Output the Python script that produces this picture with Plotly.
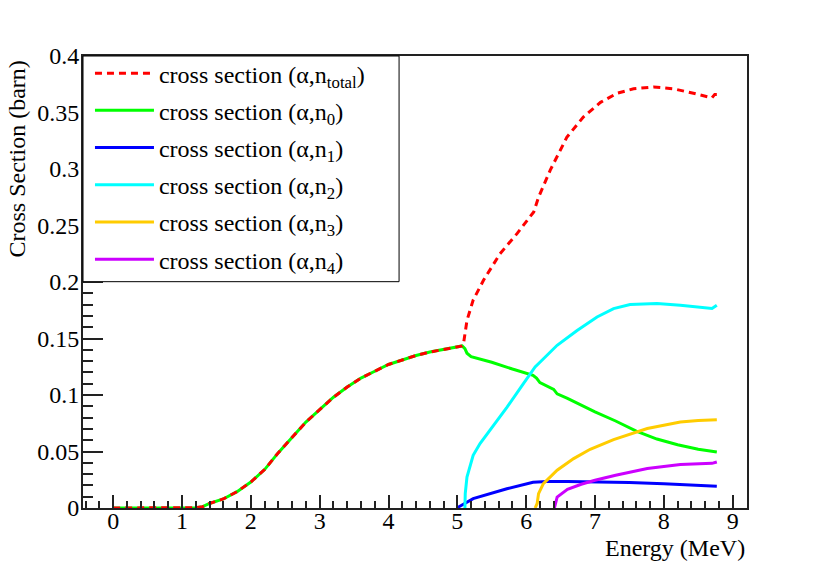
import plotly.graph_objects as go

# energies (MeV) and cross sections (barn)
E_n0 = [0, 0.5, 1.0, 1.2, 1.3, 1.4, 1.6, 1.8, 2.0, 2.2, 2.4, 2.6, 2.8, 3.0, 3.2, 3.4, 3.6, 3.8,
        4.0, 4.2, 4.4, 4.6, 4.8, 5.0, 5.07, 5.11, 5.14, 5.2, 5.5, 5.8, 6.1, 6.15, 6.2, 6.4, 6.45,
        6.6, 6.8, 7.0, 7.3, 7.6, 7.9, 8.2, 8.5, 8.77]
xs_n0 = [0, 0, 0, 0.0003, 0.0012, 0.004, 0.008, 0.0145, 0.023, 0.034, 0.049, 0.063, 0.076, 0.087,
         0.098, 0.107, 0.115, 0.121, 0.127, 0.131, 0.135, 0.138, 0.1405, 0.1425, 0.1434, 0.141,
         0.137, 0.134, 0.129, 0.123, 0.1175, 0.115, 0.111, 0.105, 0.101, 0.097, 0.091, 0.085,
         0.077, 0.068, 0.061, 0.056, 0.052, 0.0496]

E_tot = [0, 0.5, 1.0, 1.2, 1.3, 1.4, 1.6, 1.8, 2.0, 2.2, 2.4, 2.6, 2.8, 3.0, 3.2, 3.4, 3.6, 3.8,
         4.0, 4.2, 4.4, 4.6, 4.8, 5.0, 5.07, 5.09, 5.14, 5.23, 5.38, 5.62, 5.87, 6.11, 6.18, 6.35,
         6.59, 6.83, 7.08, 7.32, 7.56, 7.85, 8.14, 8.43, 8.70, 8.74, 8.77]
xs_tot = [0, 0, 0, 0.0003, 0.0012, 0.004, 0.008, 0.0145, 0.023, 0.034, 0.049, 0.063, 0.076, 0.087,
          0.098, 0.107, 0.115, 0.121, 0.127, 0.131, 0.135, 0.138, 0.1405, 0.1425, 0.1434, 0.1455,
          0.166, 0.184, 0.2015, 0.225, 0.243, 0.262, 0.275, 0.299, 0.328, 0.346, 0.359, 0.367,
          0.371, 0.3726, 0.371, 0.367, 0.363, 0.366, 0.366]

E_n1 = [5.0, 5.02, 5.23, 5.5, 5.72, 6.1, 6.3, 6.6, 7.0, 7.5, 8.0, 8.5, 8.77]
xs_n1 = [0, 0.001, 0.0083, 0.013, 0.017, 0.0228, 0.0235, 0.0235, 0.0233, 0.0226, 0.0215, 0.020, 0.0192]

E_n2 = [5.11, 5.115, 5.14, 5.19, 5.23, 5.33, 5.48, 5.72, 5.96, 6.13, 6.20, 6.45, 6.74, 7.03, 7.27,
        7.51, 7.90, 8.24, 8.70, 8.74, 8.77]
xs_n2 = [0, 0.0127, 0.0274, 0.039, 0.0466, 0.057, 0.069, 0.089, 0.110, 0.1248, 0.129, 0.144, 0.157,
         0.169, 0.1765, 0.180, 0.181, 0.1794, 0.1765, 0.1785, 0.1794]

E_n3 = [6.13, 6.16, 6.18, 6.25, 6.45, 6.69, 6.93, 7.27, 7.76, 8.24, 8.5, 8.77]
xs_n3 = [0, 0.004, 0.0127, 0.0216, 0.0334, 0.0437, 0.052, 0.0605, 0.0703, 0.0761, 0.0775, 0.0782]

E_n4 = [6.41, 6.43, 6.45, 6.6, 6.8, 7.0, 7.3, 7.76, 8.24, 8.70, 8.77]
xs_n4 = [0, 0.004, 0.0097, 0.0165, 0.021, 0.0245, 0.029, 0.0349, 0.0384, 0.0395, 0.0407]

x_ticks = [0, 1, 2, 3, 4, 5, 6, 7, 8, 9]
y_ticks = [0, 0.05, 0.1, 0.15, 0.2, 0.25, 0.3, 0.35, 0.4]
y_tick_text = ['0', '0.05', '0.1', '0.15', '0.2', '0.25', '0.3', '0.35', '0.4']

FONT = 'Liberation Serif'
FSIZE = 24
AXCOL = '#222'

fig = go.Figure()

# solid lines first, total (dashed) on top
fig.add_trace(go.Scatter(x=E_n0, y=xs_n0, mode='lines', name='cross section (α,n<sub>0</sub>)',
                         legendrank=2, legendgroup='n0', line=dict(color='#00ff00', width=3)))
fig.add_trace(go.Scatter(x=E_n1, y=xs_n1, mode='lines', name='cross section (α,n<sub>1</sub>)',
                         legendrank=3, legendgroup='n1', line=dict(color='#0000ff', width=3)))
fig.add_trace(go.Scatter(x=E_n2, y=xs_n2, mode='lines', name='cross section (α,n<sub>2</sub>)',
                         legendrank=4, legendgroup='n2', line=dict(color='#00ffff', width=3)))
fig.add_trace(go.Scatter(x=E_n3, y=xs_n3, mode='lines', name='cross section (α,n<sub>3</sub>)',
                         legendrank=5, legendgroup='n3', line=dict(color='#ffcc00', width=3)))
fig.add_trace(go.Scatter(x=E_n4, y=xs_n4, mode='lines', name='cross section (α,n<sub>4</sub>)',
                         legendrank=6, legendgroup='n4', line=dict(color='#cc00ff', width=3)))
fig.add_trace(go.Scatter(x=E_tot, y=xs_tot, mode='lines', name='cross section (α,n<sub>total</sub>)',
                         legendrank=1, legendgroup='tot',
                         line=dict(color='#ff0000', width=3, dash='7px,5px')))

fig.update_xaxes(range=[-0.4385, 9.2085], tickvals=x_ticks, ticks='inside', ticklen=13,
                 tickwidth=1.5, tickcolor=AXCOL, showline=True, linecolor=AXCOL, linewidth=2,
                 mirror=True, showgrid=False, zeroline=False, ticklabelstandoff=-10,
                 minor=dict(dtick=0.2, tick0=0, ticks='inside', ticklen=7, tickwidth=1.5,
                            tickcolor=AXCOL),
                 tickfont=dict(family=FONT, size=FSIZE, color='black'))
fig.update_yaxes(range=[0, 0.4], tickvals=y_ticks, ticktext=y_tick_text, ticks='inside',
                 ticklen=20, tickwidth=1.5, tickcolor=AXCOL, showline=True, linecolor=AXCOL,
                 linewidth=2, mirror=True, showgrid=False, zeroline=False, ticklabelstandoff=-3,
                 minor=dict(dtick=0.01, tick0=0, ticks='inside', ticklen=10, tickwidth=1.5,
                            tickcolor=AXCOL),
                 tickfont=dict(family=FONT, size=FSIZE, color='black'))

# page body adds 8px, so margins are shifted to keep the frame where the reference has it
fig.update_layout(
    width=830, height=564,
    margin=dict(l=75, r=91, t=48, b=64),
    paper_bgcolor='white', plot_bgcolor='white',
    font=dict(family=FONT, size=FSIZE, color='black'),
    legend=dict(x=0.0105, y=1.011, xanchor='left', yanchor='top', bgcolor='rgba(0,0,0,0)',
                borderwidth=0, itemwidth=59, tracegroupgap=3,
                traceorder='grouped', font=dict(family=FONT, size=FSIZE, color='black')),
    shapes=[dict(type='rect', xref='paper', yref='paper', x0=0, x1=0.476, y0=0.5007, y1=1,
                 line=dict(color='black', width=1), fillcolor='white', layer='above')],
    annotations=[
        dict(text='Energy (MeV)', xref='paper', yref='paper', x=1, y=-0.0885,
             xanchor='right', yanchor='middle', showarrow=False,
             font=dict(family=FONT, size=FSIZE, color='black')),
        dict(text='Cross Section (barn)', xref='paper', yref='paper', x=-0.0994, y=0.9956,
             xanchor='center', yanchor='top', textangle=-90, showarrow=False,
             font=dict(family=FONT, size=FSIZE, color='black')),
    ],
)

fig.write_html('out.html')
